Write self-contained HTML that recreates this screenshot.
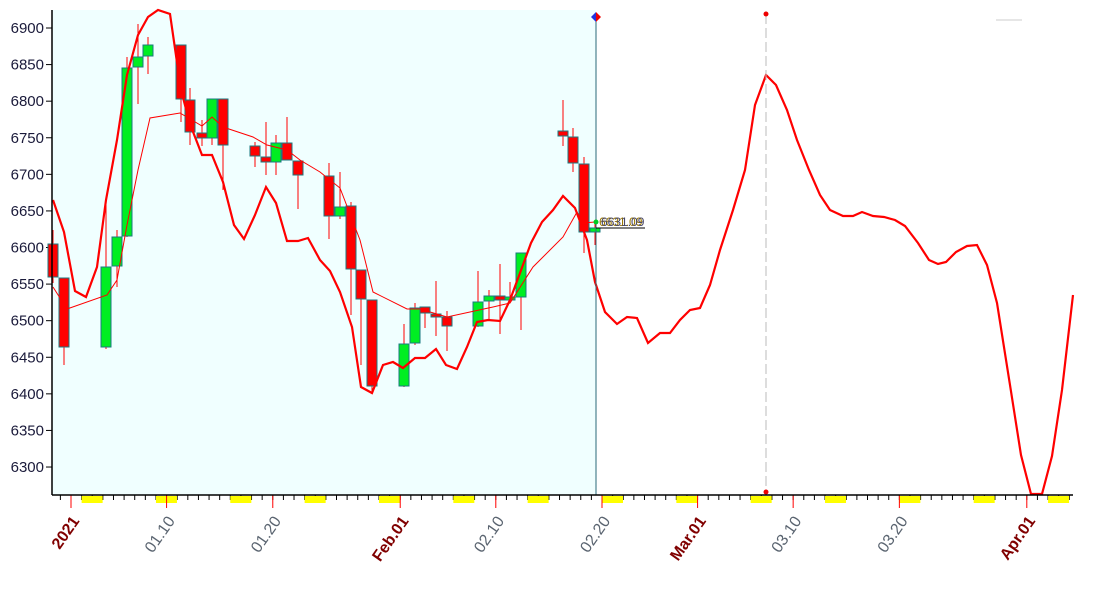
<!DOCTYPE html>
<html><head><meta charset="utf-8"><style>
html,body{margin:0;padding:0;background:#fff;}
svg{display:block;font-family:"Liberation Sans",Arial,sans-serif;}
</style></head><body>
<svg id="c" width="1098" height="593" xmlns="http://www.w3.org/2000/svg">
<rect x="52" y="10" width="544" height="485" fill="#f0ffff"/>
<g id="g"></g>
</svg>
<script>
const g=document.getElementById('g');let s='';
const Y=v=>28+(6900-v)*0.7317;
for(let v=6300;v<=6900;v+=50){const y=Y(v);s+=`<line x1="46" y1="${y}" x2="52" y2="${y}" stroke="#000"/><text x="44" y="${y+5}" text-anchor="end" font-size="15" fill="#1a1a3a">${v}</text>`;}
const X=d=>71+10.62*d;
for(let d=-1;d<=95;d++){const x=X(d);if(x<53||x>1073)continue;s+=`<line x1="${x}" y1="495" x2="${x}" y2="500" stroke="#000"/>`;}
for(let d=1;d<=95;d+=7){const x=X(d);if(x>1073)break;s+=`<rect x="${x}" y="496" width="${Math.min(21,1071-x)}" height="7" fill="#ffff00"/>`;}
const labs=[[0,'2021',1],[9,'01.10',0],[19,'01.20',0],[31,'Feb.01',1],[40,'02.10',0],[50,'02.20',0],[59,'Mar.01',1],[68,'03.10',0],[78,'03.20',0],[90,'Apr.01',1]];
for(const [d,t,b] of labs){const x=X(d);s+=`<line x1="${x}" y1="495" x2="${x}" y2="508" stroke="#f00"/><text transform="translate(${x+9},${521}) rotate(-55)" text-anchor="end" font-size="16" ${b?'font-weight="bold" fill="#800000"':'fill="#5a6470"'}>${t}</text>`;}
const C=[[53,244,277,230,283,0],[64,278,347,278,365,0],[106,267,347,205,349,1],[117,237,266,230,287,1],[127,68,236,57,237,1],[138,57,67,24,104,1],[148,45,56,37,74,1],[181,45,99,45,122,0],[190,100,132,88,145,0],[202,133,138,120,146,0],[212,99,138,99,145,1],[223,99,145,99,190,0],[255,146,156,142,167,0],[266,157,162,122,175,0],[276,143,162,135,175,1],[287,143,160,117,160,0],[298,161,175,161,209,0],[329,176,216,163,239,0],[340,207,216,172,219,1],[351,206,269,202,315,0],[361,270,299,270,365,0],[372,300,386,300,394,0],[404,344,386,324,387,1],[415,308,343,303,345,1],[425,307,313,307,328,0],[436,314,317,281,336,0],[447,317,326,311,351,0],[478,302,326,271,327,1],[489,296,301,290,320,1],[500,296,300,264,334,0],[510,297,300,282,300,1],[521,253,297,253,330,1],[563,131,136,100,146,0],[573,137,163,128,172,0],[584,164,232,157,253,0],[595,228,232,220,245,1]];
for(const [x,bt,bb,wt,wb,up] of C){s+=`<line x1="${x}" y1="${wt}" x2="${x}" y2="${wb}" stroke="#f00"/><rect x="${x-5}" y="${bt}" width="10" height="${Math.max(2,bb-bt)}" fill="${up?'#00ee22':'#ff0000'}" stroke="#1a7a80" stroke-width="1"/>`;}
const M=[[53,287],[67,309],[107,295],[117,280],[127,225],[138,170],[150,118],[180,113],[202,126],[212,117],[223,127],[253,137],[267,145],[287,150],[300,160],[320,172],[340,188],[360,240],[373,292],[407,309],[420,309],[447,317],[493,307],[510,303],[533,267],[563,237],[577,212],[583,223],[595,222]];
s+=`<polyline points="${M.map(p=>p.join(',')).join(' ')}" fill="none" stroke="#f00" stroke-width="1"/>`;
const L=[[53,200],[64,232],[75,291],[86,297],[97,267],[106,200],[117,140],[127,75],[138,35],[148,17],[158,10],[170,14],[181,90],[190,124],[202,155],[212,155],[223,182],[234,225],[244,239],[255,215],[266,187],[276,203],[287,241],[298,241],[308,238],[320,260],[330,271],[340,292],[352,327],[361,387],[372,393],[383,365],[393,362],[403,368],[415,358],[425,358],[436,349],[446,365],[457,369],[467,347],[477,322],[488,320],[500,321],[510,300],[520,273],[531,243],[542,222],[553,210],[563,196],[575,208],[587,240],[595,282],[605,312],[617,324],[627,317],[637,318],[648,343],[660,333],[670,333],[680,320],[690,310],[700,308],[710,285],[720,250],[733,210],[745,170],[755,105],[766,75],[776,85],[787,110],[797,140],[809,170],[820,195],[830,210],[843,216],[853,216],[862,212],[873,216],[884,217],[895,220],[905,226],[918,243],[929,260],[938,264],[946,262],[956,252],[967,246],[977,245],[987,265],[997,303],[1010,385],[1021,455],[1031,494],[1042,494],[1052,456],[1062,390],[1073,295]];
s+=`<polyline points="${L.map(p=>p.join(',')).join(' ')}" fill="none" stroke="#f00" stroke-width="2.2"/>`;
s+=`<line x1="596" y1="15" x2="596" y2="495" stroke="#2a6a7a"/>`;
s+=`<line x1="766" y1="14" x2="766" y2="492" stroke="#bbb" stroke-dasharray="10,4"/><circle cx="766" cy="14" r="2.5" fill="#e00"/><circle cx="766" cy="492" r="2.5" fill="#e00"/>`;
s+=`<path d="M596,12 L601,17 L596,22 Z" fill="#e00"/><path d="M596,12 L591,17 L596,22 Z" fill="#2233dd"/>`;
s+=`<circle cx="596" cy="222" r="2.5" fill="#00cc22"/><line x1="596" y1="228" x2="645" y2="228" stroke="#000"/>`;
s+=`<text x="599" y="226" font-size="12" fill="#997700">6631.09</text><text x="601" y="226" font-size="12" fill="#446">6631.09</text>`;
s+=`<line x1="996" y1="20" x2="1022" y2="20" stroke="#ccc"/>`;
s+=`<line x1="52" y1="10" x2="52" y2="495" stroke="#000" stroke-width="1.5"/><line x1="52" y1="495" x2="1073" y2="495" stroke="#000" stroke-width="1.5"/>`;
g.innerHTML=s;
</script>
</body></html>
